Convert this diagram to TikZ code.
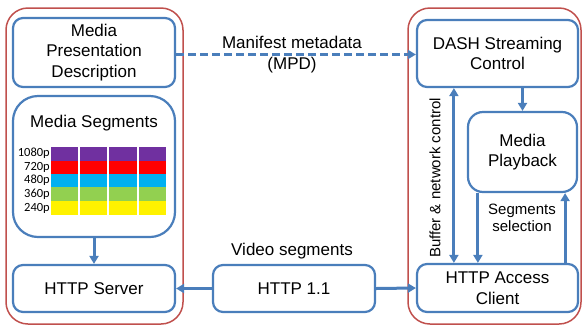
\documentclass[tikz,border=0pt]{standalone}
\usepackage{fontspec}
\setmainfont{Liberation Sans}
\newfontfamily\calfont{Carlito}
\usetikzlibrary{arrows.meta}
\definecolor{bblue}{RGB}{74,126,187}
\definecolor{cred}{RGB}{192,80,77}
\definecolor{cpurple}{RGB}{112,48,160}
\definecolor{cbluebar}{RGB}{0,176,240}
\definecolor{cgreen}{RGB}{146,208,80}
\begin{document}
\begin{tikzpicture}[x=1pt,y=-1pt,
  container/.style={draw=cred,line width=1.5pt,rounded corners=22pt,inner sep=0pt},
  box/.style={draw=bblue,line width=2.2pt,rounded corners=10pt,fill=white,inner sep=0pt,
    align=center,font=\fontsize{17}{20.5}\selectfont},
  lbl/.style={align=center,font=\fontsize{17}{20.5}\selectfont,inner sep=0pt},
  slbl/.style={align=center,font=\fontsize{15}{17}\selectfont,inner sep=0pt},
  conn/.style={draw=bblue,line width=3pt,-{Triangle[width=9pt,length=8pt]}},
  dconn/.style={draw=bblue,line width=3pt,{Triangle[width=9pt,length=8pt]}-{Triangle[width=9pt,length=8pt]}},
  reslbl/.style={anchor=east,inner sep=0pt,font=\calfont\fontsize{12.5}{13}\selectfont}
]
\useasboundingbox (0,0) rectangle (583,325);
% containers
\node[container,minimum width=177pt,minimum height=316pt] (lc) at (94.5,166) {};
\node[container,minimum width=173pt,minimum height=316pt] (rc) at (494.5,166) {};
% left boxes
\node[box,minimum width=162pt,minimum height=69pt] (mpd) at (94,52.5) {Media\\Presentation\\Description};
\node[box,rounded corners=25pt,minimum width=162pt,minimum height=141pt] (seg) at (94,166.5) {};
\node[lbl] (segt) at (94,123) {Media Segments};
\node[box,minimum width=162pt,minimum height=47pt] (srv) at (94,288.5) {HTTP Server};
% bars
\foreach \c/\t/\b in {cpurple/147/160.5, red/160.5/173.5, cbluebar/173.5/187, cgreen/187/201, yellow/201/214.5}{
  \foreach \l/\r in {51/78, 80/107, 109/137, 139/166}{
    \fill[\c] (\l,\t) rectangle (\r,\b);
  }
}
\node[reslbl] (r1) at (50,153.5) {1080p};
\node[reslbl] (r2) at (50,167) {720p};
\node[reslbl] (r3) at (50,180.5) {480p};
\node[reslbl] (r4) at (50,194) {360p};
\node[reslbl] (r5) at (50,208) {240p};
% middle
\node[box,minimum width=162pt,minimum height=47pt] (http) at (294,288.5) {HTTP 1.1};
\node[lbl] (vs) at (292,251) {Video segments};
\node[lbl] (mm) at (292,54.5) {Manifest metadata\\(MPD)};
% right boxes
\node[box,minimum width=161pt,minimum height=67pt] (dash) at (497.5,53.5) {DASH Streaming\\Control};
\node[box,rounded corners=15pt,minimum width=109pt,minimum height=80pt] (play) at (522.5,152) {Media\\Playback};
\node[box,minimum width=161pt,minimum height=48pt] (cli) at (497.5,288) {HTTP Access\\Client};
\node[slbl,rotate=90] (bnc) at (435,178) {Buffer \& network control};
\node[slbl,align=center,font=\fontsize{15}{17.5}\selectfont] (ss) at (522,218) {Segments\\selection};
% connectors
\draw[conn,dash pattern=on 8pt off 4pt] ([yshift=-2pt]mpd.east) -- ([yshift=-1pt]dash.west);
\draw[conn] (seg.south) -- (srv.north);
\draw[conn] (http.west) -- (srv.east);
\draw[conn] (http.east) -- (cli.west);
\draw[conn] (play.north |- dash.south) -- (play.north);
\draw[dconn] ([xshift=38pt]dash.south west) -- ([xshift=38pt]cli.north west);
\draw[conn] ([xshift=11pt]play.south west) -- ([xshift=11pt]play.south west |- cli.north);
\draw[conn] ([xshift=-13pt]play.south east |- cli.north) -- ([xshift=-13pt]play.south east);
\end{tikzpicture}
\end{document}
